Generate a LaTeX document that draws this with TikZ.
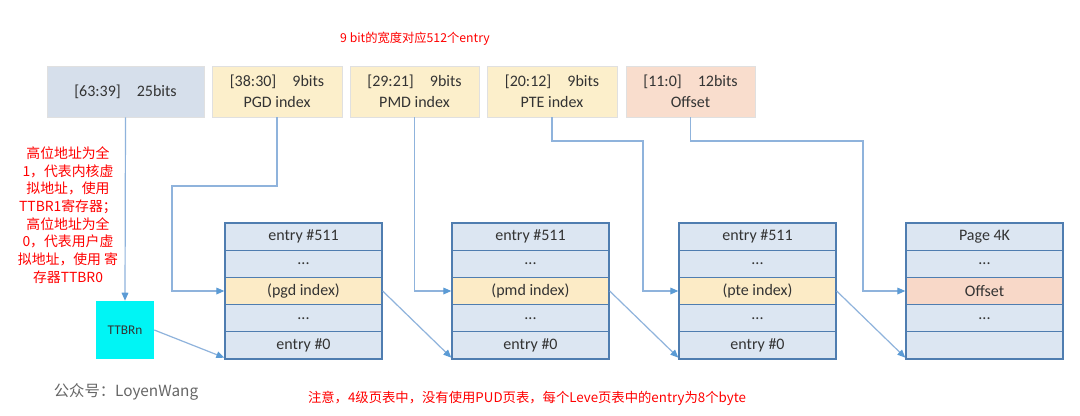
\documentclass[tikz,border=0pt]{standalone}
\usepackage{fontspec}
\setmainfont{Carlito}
\newfontfamily\cjk{Noto Sans CJK SC}
\usetikzlibrary{arrows.meta}
\definecolor{tblfill}{HTML}{DCE6F2}
\definecolor{tbldraw}{HTML}{4F7DB0}
\definecolor{boxgray}{HTML}{D6DFEB}
\definecolor{boxyel}{HTML}{FCEFCB}
\definecolor{boxsal}{HTML}{F9DDCD}
\definecolor{rowyel}{HTML}{FCEBC6}
\definecolor{rowsal}{HTML}{F8D8C8}
\definecolor{connc}{HTML}{8FB3DC}
\definecolor{tipc}{HTML}{5B9BD5}
\definecolor{txt}{HTML}{333333}
\definecolor{ttbrc}{HTML}{00F5F5}
\begin{document}
\begin{tikzpicture}[x=0.75pt,y=-0.75pt,
 topbox/.style={draw=black!12, line width=0.6pt, minimum height=38.25pt, inner sep=0pt, align=center, text=txt, font=\fontsize{12}{15.75}\selectfont},
 rowbox/.style={draw=tbldraw, line width=1pt, fill=tblfill, minimum width=117.75pt, minimum height=20.4pt, inner sep=0pt, text=txt, font=\fontsize{12}{14}\selectfont},
 link/.style={draw=connc, line width=0.9pt},
 arr/.style={link, -{Triangle[length=6pt,width=5pt,color=tipc]}},
 note/.style={text=red, align=center}
]
\fill[white] (0,0) rectangle (1080,415);
\useasboundingbox (0,0) rectangle (1080,415);

% top red note
\node[note, font=\cjk\fontsize{9.2}{11}\selectfont] (n1) at (415,39) {9 bit的宽度对应512个entry};

% address fields
\node[topbox, fill=boxgray, minimum width=117.75pt] (b1) at (125.5,91.5) {[63:39]\hspace{1em}25bits};
\node[topbox, fill=boxyel, minimum width=97.5pt] (b2) at (277,91.5) {[38:30]\hspace{1em}9bits\\PGD index};
\node[topbox, fill=boxyel, minimum width=96.75pt] (b3) at (414.5,91.5) {[29:21]\hspace{1em}9bits\\PMD index};
\node[topbox, fill=boxyel, minimum width=97.5pt] (b4) at (552,91.5) {[20:12]\hspace{1em}9bits\\PTE index};
\node[topbox, fill=boxsal, minimum width=96.75pt] (b5) at (690.5,91.5) {[11:0]\hspace{1em}12bits\\Offset};

% left red note
\node[note, font=\cjk\fontsize{10.4}{13.3}\selectfont] (n2) at (68,215) {高位地址为全\\1，代表内核虚\\拟地址，使用\\TTBR1寄存器；\\高位地址为全\\0，代表用户虚\\拟地址，使用 寄\\存器TTBR0};

% TTBRn
\node[fill=ttbrc, minimum width=43.5pt, minimum height=43.5pt, inner sep=0pt, text=txt, font=\fontsize{10}{12}\selectfont] (ttbr) at (125,330) {TTBRn};

% tables
\foreach \t/\cx/\lab/\hl in {1/303.5/(pgd index)/rowyel, 2/530.5/(pmd index)/rowyel, 3/757.5/(pte index)/rowyel}{
  \node[rowbox] (t\t r1) at (\cx,236.6) {entry \#511};
  \node[rowbox] (t\t r2) at (\cx,263.8) {...};
  \node[rowbox, fill=\hl] (t\t r3) at (\cx,291) {\lab};
  \node[rowbox] (t\t r4) at (\cx,318.2) {...};
  \node[rowbox] (t\t r5) at (\cx,345.4) {entry \#0};
}
\node[rowbox] (t4r1) at (984.5,236.6) {Page 4K};
\node[rowbox] (t4r2) at (984.5,263.8) {...};
\node[rowbox, fill=rowsal] (t4r3) at (984.5,291) {Offset};
\node[rowbox] (t4r4) at (984.5,318.2) {...};
\node[rowbox] (t4r5) at (984.5,345.4) {};

% routing corners
\coordinate (p1) at (172,186);
\coordinate (p3) at (643,141);
\coordinate (p4) at (863,141);

\draw[arr] (b1.south) -- (ttbr.north);
\draw[arr] (b2.south) |- (p1) |- (t1r3.west);
\draw[arr] (b3.south) |- (t2r3.west);
\draw[arr] (b4.south) |- (p3) |- (t3r3.west);
\draw[arr] (b5.south) |- (p4) |- (t4r3.west);

\draw[arr] (ttbr.east) -- ([yshift=1.5pt]t1r5.south west);
\draw[arr] (t1r3.east) -- ([yshift=1.5pt]t2r5.south west);
\draw[arr] (t2r3.east) -- ([yshift=1.5pt]t3r5.south west);
\draw[arr] (t3r3.east) -- ([yshift=1.5pt]t4r5.south west);

% bottom texts
\node[text=black!60, font=\cjk\fontsize{11.5}{13}\selectfont] (wm) at (126,392) {公众号：LoyenWang};
\node[note, font=\cjk\fontsize{10}{12}\selectfont] (n3) at (527,398) {注意，4级页表中，没有使用PUD页表，每个Leve页表中的entry为8个byte};
\end{tikzpicture}
\end{document}
